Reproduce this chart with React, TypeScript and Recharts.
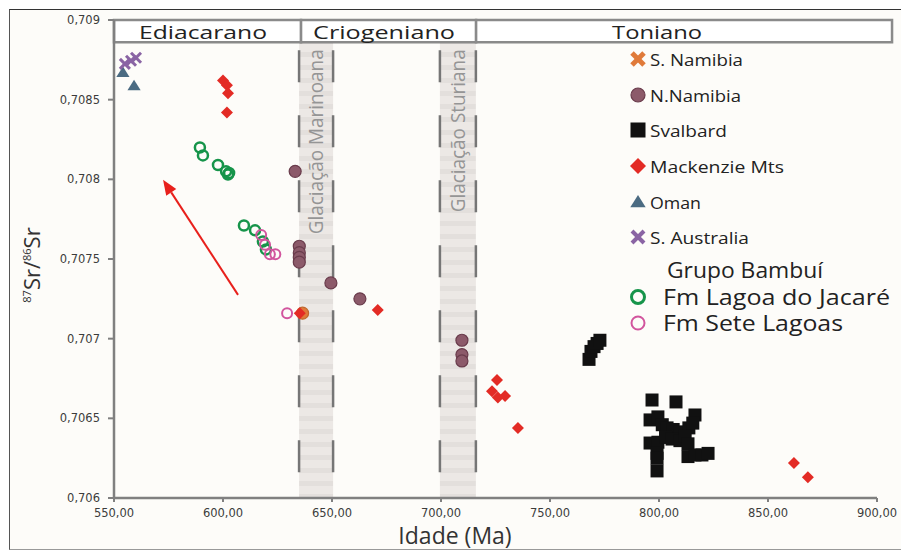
import { ScatterChart, Scatter, XAxis, YAxis, ReferenceArea, ReferenceLine, Legend } from 'recharts';

// eixos
const ageTicks = [550, 600, 650, 700, 750, 800, 850, 900];
const srTicks = [0.706, 0.7065, 0.707, 0.7075, 0.708, 0.7085, 0.709];

// períodos (limites em Ma) e glaciações
const eraNames = ['Ediacarano', 'Criogeniano', 'Toniano'];
const eraBounds = [550, 635.8, 716.1, 906.9];
const glacNames = ['Glaciação Marinoana', 'Glaciação Sturiana'];
const glacStart = [634.9, 699.5];
const glacEnd = [650.5, 716];

// séries: idade (Ma) e 87Sr/86Sr
const sNamibiaAge = [636.5];
const sNamibiaSr = [0.70716];

const nNamibiaAge = [633.1, 635, 635, 635, 635, 649.5, 662.8, 709.6, 709.6, 709.6];
const nNamibiaSr = [0.70805, 0.70758, 0.70754, 0.70751, 0.70748, 0.70735, 0.70725, 0.70699, 0.7069, 0.70686];

const svalbardAge = [
  767.9, 768.8, 770.2, 771.6, 772.9,
  796.8, 807.8, 816.5, 795.9, 799.5, 801.5, 803.7, 806.5, 809.6, 813.7, 815.5,
  795.9, 799.5, 803.0, 806.0, 809.6, 812.0, 813.3, 799.1, 799.1, 813.3, 816.5, 819.7, 822.5, 799.1,
];
const svalbardSr = [
  0.70687, 0.70692, 0.70695, 0.70697, 0.70699,
  0.706615, 0.706603, 0.706521, 0.70649, 0.706509, 0.70646, 0.70644, 0.70643, 0.706415, 0.70644, 0.70647,
  0.706345, 0.70635, 0.70638, 0.70637, 0.70636, 0.70639, 0.70634, 0.70628, 0.70625, 0.70626, 0.70627, 0.70627, 0.70628, 0.70617,
];

const mackenzieAge = [600.0, 601.8, 602.3, 601.8, 635.2, 671.0, 725.7, 723.4, 726.1, 729.4, 735.3, 861.9, 868.3];
const mackenzieSr = [0.70862, 0.70859, 0.70854, 0.70842, 0.70716, 0.70718, 0.70674, 0.70667, 0.70663, 0.70664, 0.70644, 0.70622, 0.70613];

const omanAge = [554.1, 559.2];
const omanSr = [0.70867, 0.708587];

const sAustraliaAge = [555.0, 557.8, 560.1];
const sAustraliaSr = [0.708725, 0.708744, 0.708763];

const lagoaAge = [589.4, 590.8, 597.7, 601.4, 602.8, 602.3, 609.6, 614.7, 618.3, 619.7];
const lagoaSr = [0.7082, 0.70815, 0.70809, 0.70805, 0.70804, 0.70803, 0.70771, 0.70768, 0.70761, 0.70756];

const seteAge = [617.5, 619.3, 621.5, 624.0, 629.4];
const seteSr = [0.70765, 0.70759, 0.70753, 0.70753, 0.70716];

// seta vermelha (início -> ponta)
const arrowAge = [606.9, 572.5];
const arrowSr = [0.707275, 0.707997];

const toPoints = (xs: number[], ys: number[]) => xs.map((age, i) => ({ age, sr: ys[i] }));

const FONT = "'Open Sans', sans-serif";

const squareShape = (color: string, s: number) => (p: any) => (
  <rect x={p.cx - s / 2} y={p.cy - s / 2} width={s} height={s} fill={color} />
);
const ringShape = (color: string, r: number, w: number) => (p: any) => (
  <circle cx={p.cx} cy={p.cy} r={r} fill="none" stroke={color} strokeWidth={w} />
);
const dotShape = (fill: string, stroke: string, r: number) => (p: any) => (
  <circle cx={p.cx} cy={p.cy} r={r} fill={fill} stroke={stroke} strokeWidth={1.2} />
);
const crossShape = (color: string, s: number, w: number) => (p: any) => (
  <g stroke={color} strokeWidth={w}>
    <line x1={p.cx - s} y1={p.cy - s} x2={p.cx + s} y2={p.cy + s} />
    <line x1={p.cx - s} y1={p.cy + s} x2={p.cx + s} y2={p.cy - s} />
  </g>
);
const triangleShape = (color: string, s: number) => (p: any) => (
  <polygon
    points={`${p.cx},${p.cy - s} ${p.cx + s * 1.1},${p.cy + s * 0.75} ${p.cx - s * 1.1},${p.cy + s * 0.75}`}
    fill={color}
  />
);
const diamondShape = (color: string, s: number) => (p: any) => (
  <polygon points={`${p.cx},${p.cy - s} ${p.cx + s},${p.cy} ${p.cx},${p.cy + s} ${p.cx - s},${p.cy}`} fill={color} />
);

const C_SNAM = '#e07a3a';
const C_NNAM = '#8c5a6a';
const C_MACK = '#e32b25';
const C_OMAN = '#4b6b82';
const C_SAUS = '#8a64a4';
const C_LAGOA = '#16944a';
const C_SETE = '#d2559e';

const eraTextOffset = [25, 12, 136];
const eraTextLen = [128, 142, 90];
const glacTextLen = [185, 163];

const eraLabel = (i: number) => (props: any) => {
  const { x, y, height } = props.viewBox;
  return (
    <text
      x={x + eraTextOffset[i]}
      y={y + height / 2 + 1}
      dominantBaseline="central"
      fontFamily={FONT}
      fontSize={19}
      fill="#222"
      textLength={eraTextLen[i]}
      lengthAdjust="spacingAndGlyphs"
    >
      {eraNames[i]}
    </text>
  );
};

const glacLabel = (i: number) => (props: any) => {
  const { x, y, width } = props.viewBox;
  const tx = x + width / 2 + 7;
  const ty = y + 7;
  return (
    <text
      x={tx}
      y={ty}
      transform={`rotate(-90, ${tx}, ${ty})`}
      textAnchor="end"
      fontFamily={FONT}
      fontSize={20}
      fill="#959595"
      textLength={glacTextLen[i]}
      lengthAdjust="spacingAndGlyphs"
    >
      {glacNames[i]}
    </text>
  );
};

const arrowShape = (p: any) => {
  const { x1, y1, x2, y2 } = p;
  const ang = Math.atan2(y2 - y1, x2 - x1);
  const len = 15;
  const half = 6;
  const bx = x2 - len * Math.cos(ang);
  const by = y2 - len * Math.sin(ang);
  const nx = -Math.sin(ang) * half;
  const ny = Math.cos(ang) * half;
  return (
    <g>
      <line x1={x1} y1={y1} x2={bx} y2={by} stroke="#e8201c" strokeWidth={2} />
      <polygon points={`${x2},${y2} ${bx + nx},${by + ny} ${bx - nx},${by - ny}`} fill="#e8201c" />
    </g>
  );
};

const legendItems = [
  { label: 'S. Namibia', len: 93, shape: crossShape(C_SNAM, 6, 5) },
  { label: 'N.Namibia', len: 91, shape: dotShape(C_NNAM, '#6a3c4c', 7) },
  { label: 'Svalbard', len: 77, shape: squareShape('#111', 15) },
  { label: 'Mackenzie Mts', len: 134, shape: diamondShape(C_MACK, 8) },
  { label: 'Oman', len: 51, shape: triangleShape(C_OMAN, 7) },
  { label: 'S. Australia', len: 99, shape: crossShape(C_SAUS, 6, 4) },
];
const legendY = [19, 55, 90, 126, 162, 197];

const renderLegend = () => (
  <svg width={281} height={300} style={{ overflow: 'visible' }}>
    {legendItems.map((it, i) => (
      <g key={it.label}>
        {it.shape({ cx: 18, cy: legendY[i] })}
        <text
          x={30}
          y={legendY[i]}
          dominantBaseline="central"
          fontFamily={FONT}
          fontSize={17}
          fill="#222"
          textLength={it.len}
          lengthAdjust="spacingAndGlyphs"
        >
          {it.label}
        </text>
      </g>
    ))}
    <text x={47} y={230} dominantBaseline="central" fontFamily={FONT} fontSize={21} fill="#222" textLength={156} lengthAdjust="spacingAndGlyphs">
      Grupo Bambuí
    </text>
    {ringShape(C_LAGOA, 6.5, 3)({ cx: 18, cy: 257 })}
    <text x={43} y={257} dominantBaseline="central" fontFamily={FONT} fontSize={21} fill="#222" textLength={227} lengthAdjust="spacingAndGlyphs">
      Fm Lagoa do Jacaré
    </text>
    {ringShape(C_SETE, 6.5, 2)({ cx: 18, cy: 283 })}
    <text x={43} y={283} dominantBaseline="central" fontFamily={FONT} fontSize={21} fill="#222" textLength={180} lengthAdjust="spacingAndGlyphs">
      Fm Sete Lagoas
    </text>
  </svg>
);

const yLabel = (props: any) => {
  const { x, y, height } = props.viewBox;
  const tx = x + 40;
  const ty = y + height / 2 + 6;
  return (
    <text x={tx} y={ty} transform={`rotate(-90, ${tx}, ${ty})`} textAnchor="middle" fontFamily={FONT} fill="#333">
      <tspan fontSize={11} dy={-9}>87</tspan>
      <tspan fontSize={22} dy={9}>Sr/</tspan>
      <tspan fontSize={11} dy={-9}>86</tspan>
      <tspan fontSize={22} dy={9}>Sr</tspan>
    </text>
  );
};

const xLabel = (props: any) => {
  const { x, y } = props.viewBox;
  return (
    <text x={x + 341} y={y + 46} textAnchor="middle" fontFamily={FONT} fontSize={23} fill="#333">
      Idade (Ma)
    </text>
  );
};

export default function App() {
  const tickStyle = { fontSize: 11.5, fill: '#3c3c3c', fontFamily: "'DejaVu Sans', sans-serif" };
  return (
    <div style={{ position: 'absolute', left: 0, top: 0, width: 901, height: 551, background: '#fff', overflow: 'hidden' }}>
      <div
        style={{
          position: 'absolute',
          left: 9,
          top: 9,
          width: 892,
          height: 539,
          background: '#fdfcf9',
          borderTop: '1.5px solid #333',
          borderLeft: '1.5px solid #555',
          borderBottom: '1px solid #999',
        }}
      />
      <div style={{ position: 'absolute', left: 0, top: 0 }}>
        <ScatterChart width={901} height={551} margin={{ top: 20, right: 24, left: 0, bottom: 0 }}>
          <defs>
            <pattern id="glacStripes" width={10} height={13} patternUnits="userSpaceOnUse">
              <rect x={0} y={0} width={10} height={13} fill="#ece8e5" />
              <rect x={0} y={0} width={10} height={5} fill="#e3dfdc" />
            </pattern>
          </defs>
          <XAxis
            type="number"
            dataKey="age"
            domain={[550, 900]}
            ticks={ageTicks}
            interval={0}
            tickFormatter={(v: number) => v.toFixed(2).replace('.', ',')}
            height={53}
            axisLine={{ stroke: '#808080', strokeWidth: 2.5 }}
            tickLine={{ stroke: '#808080', strokeWidth: 2 }}
            tickSize={4}
            tickMargin={7}
            tick={tickStyle}
            label={xLabel}
          />
          <YAxis
            type="number"
            dataKey="sr"
            domain={[0.706, 0.709]}
            ticks={srTicks}
            interval={0}
            tickFormatter={(v: number) => String(v).replace('.', ',')}
            width={114}
            axisLine={{ stroke: '#808080', strokeWidth: 2.5 }}
            tickLine={{ stroke: '#808080', strokeWidth: 2 }}
            tickSize={6}
            tickMargin={8}
            tick={tickStyle}
            label={yLabel}
          />

          {glacNames.map((n, i) => (
            <ReferenceArea
              key={n}
              x1={glacStart[i]}
              x2={glacEnd[i]}
              y1={0.706}
              y2={0.70886}
              fill="url(#glacStripes)"
              fillOpacity={1}
              stroke="none"
              label={glacLabel(i)}
            />
          ))}
          {glacNames.map((n, i) =>
            [glacStart[i], glacEnd[i]].map((gx) => (
              <ReferenceLine
                key={n + gx}
                segment={[
                  { x: gx, y: 0.70886 },
                  { x: gx, y: 0.706 },
                ]}
                stroke="#767676"
                strokeWidth={2.5}
                strokeDasharray="32 33"
                strokeDashoffset={-8}
              />
            ))
          )}

          {eraNames.map((n, i) => (
            <ReferenceArea
              key={n}
              x1={eraBounds[i]}
              x2={eraBounds[i + 1]}
              y1={0.70886}
              y2={0.709}
              ifOverflow="visible"
              fill="#ffffff"
              fillOpacity={1}
              stroke="#8a8a8a"
              strokeWidth={2.5}
              label={eraLabel(i)}
            />
          ))}

          <ReferenceLine
            segment={[
              { x: arrowAge[0], y: arrowSr[0] },
              { x: arrowAge[1], y: arrowSr[1] },
            ]}
            shape={arrowShape}
          />

          <Scatter name="Svalbard" data={toPoints(svalbardAge, svalbardSr)} shape={squareShape('#111', 13)} isAnimationActive={false} />
          <Scatter name="N.Namibia" data={toPoints(nNamibiaAge, nNamibiaSr)} shape={dotShape(C_NNAM, '#6a3c4c', 6)} isAnimationActive={false} />
          <Scatter name="S. Namibia" data={toPoints(sNamibiaAge, sNamibiaSr)} shape={dotShape(C_SNAM, '#c0692f', 6)} isAnimationActive={false} />
          <Scatter name="Mackenzie Mts" data={toPoints(mackenzieAge, mackenzieSr)} shape={diamondShape(C_MACK, 6)} isAnimationActive={false} />
          <Scatter name="Oman" data={toPoints(omanAge, omanSr)} shape={triangleShape(C_OMAN, 6)} isAnimationActive={false} />
          <Scatter name="S. Australia" data={toPoints(sAustraliaAge, sAustraliaSr)} shape={crossShape(C_SAUS, 5, 3)} isAnimationActive={false} />
          <Scatter name="Fm Lagoa do Jacaré" data={toPoints(lagoaAge, lagoaSr)} shape={ringShape(C_LAGOA, 5, 2.5)} isAnimationActive={false} />
          <Scatter name="Fm Sete Lagoas" data={toPoints(seteAge, seteSr)} shape={ringShape(C_SETE, 5, 2)} isAnimationActive={false} />

          <Legend
            layout="horizontal"
            verticalAlign="middle"
            align="center"
            content={renderLegend}
            wrapperStyle={{ position: 'absolute', left: 620, top: 40, width: 281, height: 300 }}
          />
        </ScatterChart>
      </div>
    </div>
  );
}
